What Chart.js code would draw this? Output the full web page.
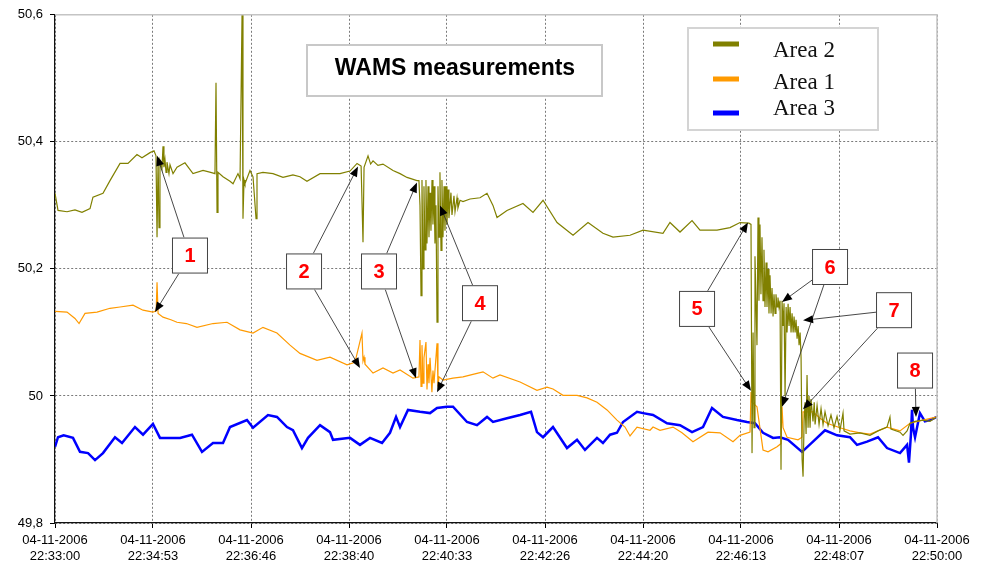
<!DOCTYPE html>
<html>
<head>
<meta charset="utf-8">
<script src="https://cdn.jsdelivr.net/npm/chart.js@4.4.1/dist/chart.umd.min.js"></script>
<style>
  html, body { margin: 0; padding: 0; background: #fff; }
  #wrap { width: 983px; height: 565px; position: relative; }
</style>
</head>
<body>
<div id="wrap"><canvas id="chart" width="983" height="565"></canvas></div>
<script>
// seconds after 04-11-2006 22:33:00, frequency in Hz
const area2Time = [0,3.5,13.9,23.1,31.2,40.5,43.9,55.5,63.6,75.2,84.4,94.8,100.6,109.9,114.5,116.8,118,119.2,120.3,121.4,123.7,124.9,126,127.2,128.4,129.5,131.8,133,136.5,141.1,150.3,159.6,171.2,180,185,186.2,187.4,188.5,194.3,202.4,205.9,211.6,214,216.3,217.4,218.6,219.7,225.5,229,232.5,233.6,240.5,252.1,263.7,275.2,283.3,291.4,306.5,318,329.6,341.2,349.3,354,356.2,357.4,362,365,367.8,373.5,379.3,390.9,399,407.1,418.6,420.9,422.1,423.3,424.4,425.6,426.7,427.9,429,430.2,431.4,432.5,433.7,434.8,436,437.1,438.3,439.4,440.6,441.8,442.9,444.1,445.2,446.4,447.5,448.7,449.9,451,452.2,453.3,454.5,455.6,457.9,459.1,461.4,462.6,464.9,466,468.4,471.8,480,491.5,499.6,506.5,511.2,522.7,541.2,552.8,564.4,580.6,599.1,616.4,633.7,645.3,665,680,703.1,711.2,722.8,736.7,745.9,765.6,780.6,792.2,802.5,804.9,806.1,807.3,808.4,809.5,811.8,813,814.1,815.3,816.4,817.6,818.8,819.9,821.1,822.3,823.4,824.6,825.7,826.9,828.1,829.2,830.4,831.5,832.7,833.8,835,836.1,837.3,838.5,839.6,840.8,842,843.1,844.3,845.5,846.6,847.8,848.9,850.1,851.2,852.4,853.6,854.7,855.9,857,858.2,859.4,860.5,861.7,862.8,864,865.1,866.3,867.4,868.6,869.7,870.9,872,873.2,874.3,876.6,878,879,881.3,883.6,885.9,888.2,890.5,894,897.4,900.9,904.4,907.8,911.3,912.5,919.4,931,942.5,951.8,962.2,965.6,966.8,977.2,980.7,985.4,988.8,994.6,1003.8,1011.9,1020];
const area2Freq = [50.319,50.292,50.29,50.293,50.289,50.295,50.313,50.319,50.339,50.366,50.366,50.38,50.375,50.383,50.386,50.378,50.25,50.372,50.265,50.37,50.358,50.393,50.36,50.372,50.352,50.368,50.35,50.364,50.35,50.36,50.367,50.35,50.355,50.352,50.35,50.493,50.289,50.352,50.345,50.338,50.334,50.35,50.342,50.6,50.279,50.34,50.334,50.355,50.345,50.279,50.35,50.352,50.35,50.344,50.348,50.345,50.338,50.35,50.35,50.35,50.354,50.366,50.362,50.242,50.36,50.378,50.365,50.37,50.363,50.365,50.355,50.35,50.344,50.339,50.339,50.3,50.158,50.34,50.2,50.33,50.23,50.34,50.24,50.33,50.25,50.32,50.26,50.34,50.27,50.33,50.24,50.3,50.116,50.33,50.25,50.352,50.229,50.34,50.25,50.33,50.26,50.33,50.27,50.325,50.28,50.32,50.285,50.315,50.29,50.312,50.296,50.308,50.306,50.31,50.312,50.319,50.3,50.281,50.292,50.303,50.289,50.308,50.273,50.253,50.273,50.256,50.25,50.253,50.261,50.256,50.273,50.258,50.276,50.261,50.261,50.265,50.273,50.272,50.27,49.91,50.1,49.95,50.22,50.08,50.281,50.15,50.27,50.16,50.25,50.15,50.23,50.14,50.21,50.14,50.2,50.13,50.19,50.13,50.17,50.125,50.16,50.13,50.16,50.14,50.155,50.14,50.15,49.884,50.15,50.11,50.146,50.0,50.14,50.1,50.145,50.11,50.14,50.1,50.13,50.1,50.125,50.1,50.12,50.09,50.11,50.08,50.1,50.06,49.9,49.873,49.96,49.99,49.94,50.033,49.95,50.0,49.95,49.995,49.96,49.99,49.955,49.985,49.955,49.98,49.955,49.975,49.953,49.97,49.95,49.968,49.946,49.973,49.945,49.94,49.942,49.938,49.945,49.951,49.967,49.948,49.943,49.938,49.945,49.957,49.96,49.962,49.96,49.967];

const area1Time = [0,13.9,23.1,27.8,34.7,48.6,63.6,75.2,90.2,101.8,113.3,117,118,119.2,124.9,134,141.1,152,164.2,182.7,198.9,214,229,240.5,256.7,271.8,283.3,303,318,337.7,346.9,355,356.2,357.4,358.5,367.8,379.3,390.9,399,414,420.9,422.1,423.3,424.4,425.6,426.7,429,430.2,431.4,432.5,433.7,435.9,437.1,438.3,441.8,442.9,444.1,448.7,460.3,471.8,483.3,495,506.5,514.6,537.8,557.4,569,575.9,587.5,603.7,615.3,626.8,638.4,649.9,659.2,665,673.1,688.1,691.6,699.7,714.7,725.1,737.8,755.2,769.1,784.1,792.2,803.8,804.9,806.1,809.5,811.8,818.8,824.6,835,839.6,840.8,842,846.6,859.3,863.9,865.1,876.6,884.7,892.8,907.8,919.4,931,942.5,962.2,977.2,988.8,1003.8,1020];
const area1Freq = [50.133,50.132,50.122,50.114,50.13,50.132,50.138,50.14,50.143,50.135,50.132,50.134,50.179,50.13,50.124,50.12,50.116,50.114,50.108,50.114,50.116,50.104,50.099,50.108,50.099,50.08,50.067,50.056,50.061,50.049,50.053,50.099,50.055,50.061,50.05,50.036,50.044,50.036,50.041,50.028,50.03,50.088,50.015,50.08,50.02,50.06,50.085,50.01,50.05,50.02,50.06,50.006,50.04,50.02,50.083,50.015,50.03,50.025,50.028,50.03,50.034,50.038,50.028,50.033,50.022,50.009,50.014,50.011,50.001,50.001,49.997,49.99,49.978,49.962,49.951,49.937,49.951,49.946,49.951,49.946,49.951,49.942,49.928,49.943,49.942,49.928,49.938,49.943,50.006,49.99,49.986,49.983,49.915,49.912,49.92,49.925,49.983,49.95,49.935,49.931,49.935,49.975,49.975,49.965,49.957,49.95,49.945,49.942,49.94,49.951,49.945,49.957,49.962,49.967];

const area3Time = [0,3.5,10,20.8,28.9,38.2,46.3,55.5,69.4,77.5,92.5,101.8,113.3,121.4,144.6,158.4,170,182.7,194.3,202.4,222,229,246.3,256.7,268.3,275.2,285.6,292.6,306.5,318,321.5,341.2,352.7,364.3,378.2,387.4,394.4,399,408.2,422.1,433.7,441.8,453.3,460.3,476.5,488,499.6,506.5,522.7,537.8,550.5,557.4,564.4,575.9,592.1,603.7,612.9,626.8,633.7,641.9,649.9,656.9,673.1,680,691.6,707.8,722.8,736.7,749.4,759.8,772.5,788.7,800.3,809.5,818.8,830.4,838.5,847.7,863.9,876.6,890.5,904.4,919.4,927.5,939.1,951.8,962.2,977.2,985.4,987.6,989.9,991.1,992.3,994.6,1000.3,1006,1011.9,1020];
const area3Freq = [49.92,49.935,49.938,49.934,49.912,49.91,49.899,49.91,49.935,49.926,49.951,49.939,49.956,49.934,49.934,49.939,49.912,49.926,49.926,49.951,49.962,49.95,49.97,49.967,49.951,49.946,49.918,49.934,49.954,49.943,49.931,49.934,49.923,49.934,49.926,49.942,49.967,49.951,49.978,49.975,49.973,49.981,49.983,49.983,49.959,49.954,49.967,49.959,49.965,49.97,49.975,49.943,49.935,49.951,49.918,49.931,49.915,49.934,49.926,49.939,49.942,49.959,49.975,49.973,49.97,49.957,49.954,49.943,49.951,49.981,49.967,49.962,49.959,49.957,49.942,49.934,49.935,49.931,49.912,49.928,49.946,49.938,49.935,49.923,49.928,49.935,49.918,49.91,49.923,49.895,49.94,49.978,49.95,49.935,49.973,49.96,49.962,49.967];

const xTickSeconds = [0, 113.3, 226.7, 340, 453.3, 566.7, 680, 793.3, 906.7, 1020];
const xTickLabels = ['22:33:00','22:34:53','22:36:46','22:38:40','22:40:33','22:42:26','22:44:20','22:46:13','22:48:07','22:50:00'];
const xTickDate = '04-11-2006';
const yTickValues = [49.8, 50, 50.2, 50.4, 50.6];
const yTickLabels = ['49,8', '50', '50,2', '50,4', '50,6'];

// numbered callouts: box centre and arrow targets, in (seconds, Hz)
const callouts = [
  { n: '1', at: [156.1, 50.221], to: [[118, 50.378], [115.7, 50.132]] },
  { n: '2', at: [288.0, 50.196], to: [[350.4, 50.361], [352.7, 50.044]] },
  { n: '3', at: [374.7, 50.196], to: [[418.6, 50.336], [417.5, 50.028]] },
  { n: '4', at: [491.5, 50.146], to: [[445.2, 50.300], [441.8, 50.006]] },
  { n: '5', at: [742.5, 50.137], to: [[801.4, 50.273], [804.9, 50.008]] },
  { n: '6', at: [896.3, 50.203], to: [[840.8, 50.148], [840.8, 49.983]] },
  { n: '7', at: [970.3, 50.135], to: [[865.1, 50.119], [865.1, 49.979]] },
  { n: '8', at: [994.6, 50.040], to: [[995.7, 49.967]] }
];

const zip = (ts, vs) => ts.map((t, i) => ({ x: t, y: vs[i] }));

const decor = {
  id: 'decor',
  afterDatasetsDraw(chart) {
    const { ctx, chartArea: a, scales } = chart;
    const sx = scales.x, sy = scales.y;
    ctx.save();

    // plot frame (top and right light grey)
    ctx.strokeStyle = '#c4c4c4';
    ctx.lineWidth = 1.5;
    ctx.beginPath();
    ctx.moveTo(a.left, a.top);
    ctx.lineTo(a.right, a.top);
    ctx.lineTo(a.right, a.bottom);
    ctx.stroke();

    // title box
    ctx.fillStyle = '#fff';
    ctx.fillRect(307, 45, 295, 51);
    ctx.strokeStyle = '#c8c8c8';
    ctx.lineWidth = 2;
    ctx.strokeRect(307, 45, 295, 51);
    ctx.fillStyle = '#000';
    ctx.font = 'bold 23px "Liberation Sans", Arial, sans-serif';
    ctx.textAlign = 'center';
    ctx.textBaseline = 'middle';
    ctx.fillText('WAMS measurements', 455, 69);

    // legend box
    ctx.fillStyle = '#fff';
    ctx.fillRect(688, 28, 190, 102);
    ctx.strokeStyle = '#d4d4d4';
    ctx.strokeRect(688, 28, 190, 102);
    const rows = [44, 79, 113];
    const textRows = [51, 83, 109];
    chart.data.datasets.forEach((ds, i) => {
      ctx.fillStyle = ds.borderColor;
      ctx.fillRect(713, rows[i] - 2.5, 26, 5);
      ctx.fillStyle = '#111';
      ctx.font = '23px "Liberation Serif", "Times New Roman", serif';
      ctx.textAlign = 'left';
      ctx.textBaseline = 'middle';
      ctx.fillText(ds.label, 773, textRows[i]);
    });

    // callouts
    const hw = 18, hh = 18;
    callouts.forEach(c => {
      const cx = sx.getPixelForValue(c.at[0]);
      const cy = sy.getPixelForValue(c.at[1]);
      c.to.forEach(([t, v]) => {
        const px = sx.getPixelForValue(t);
        const py = sy.getPixelForValue(v);
        const dx = px - cx, dy = py - cy;
        const s = Math.min(hw / Math.abs(dx || 1e-6), hh / Math.abs(dy || 1e-6));
        const x0 = cx + dx * s, y0 = cy + dy * s;
        const ang = Math.atan2(py - y0, px - x0);
        ctx.strokeStyle = '#333';
        ctx.lineWidth = 0.9;
        ctx.beginPath();
        ctx.moveTo(x0, y0);
        ctx.lineTo(px - Math.cos(ang) * 6, py - Math.sin(ang) * 6);
        ctx.stroke();
        ctx.fillStyle = '#000';
        ctx.beginPath();
        ctx.moveTo(px, py);
        ctx.lineTo(px - Math.cos(ang) * 10 + Math.sin(ang) * 4, py - Math.sin(ang) * 10 - Math.cos(ang) * 4);
        ctx.lineTo(px - Math.cos(ang) * 10 - Math.sin(ang) * 4, py - Math.sin(ang) * 10 + Math.cos(ang) * 4);
        ctx.closePath();
        ctx.fill();
      });
      ctx.fillStyle = '#fff';
      ctx.fillRect(cx - hw, cy - hh, hw * 2, hh * 2);
      ctx.strokeStyle = '#444';
      ctx.lineWidth = 1;
      ctx.strokeRect(cx - hw + 0.5, cy - hh + 0.5, hw * 2 - 1, hh * 2 - 1);
      ctx.fillStyle = '#ff0000';
      ctx.font = 'bold 20px "Liberation Sans", Arial, sans-serif';
      ctx.textAlign = 'center';
      ctx.textBaseline = 'middle';
      ctx.fillText(c.n, cx, cy + 1);
    });

    ctx.restore();
  }
};

new Chart(document.getElementById('chart'), {
  type: 'line',
  data: {
    datasets: [
      { label: 'Area 2', data: zip(area2Time, area2Freq), borderColor: '#808000', borderWidth: 1.2 },
      { label: 'Area 1', data: zip(area1Time, area1Freq), borderColor: '#ff9a00', borderWidth: 1.2 },
      { label: 'Area 3', data: zip(area3Time, area3Freq), borderColor: '#0000ff', borderWidth: 2.5 }
    ]
  },
  options: {
    responsive: false,
    animation: false,
    elements: { point: { radius: 0 }, line: { tension: 0 } },
    layout: { padding: { top: 14, right: 46, left: 0, bottom: 0 } },
    plugins: { legend: { display: false }, tooltip: { enabled: false } },
    scales: {
      x: {
        type: 'linear',
        min: 0,
        max: 1020,
        afterBuildTicks: (scale) => { scale.ticks = xTickSeconds.map(v => ({ value: v })); },
        afterFit: (scale) => { scale.height = 42; },
        ticks: {
          autoSkip: false,
          maxRotation: 0,
          padding: 5,
          color: '#000',
          font: { family: '"Liberation Sans", Arial, sans-serif', size: 13 },
          callback: (v, i) => [xTickDate, xTickLabels[i]]
        },
        grid: { color: '#7a7a7a', lineWidth: 1, tickLength: 5, tickColor: '#000', tickBorderDash: [] },
        border: { display: true, color: '#111', width: 1.2, dash: [2, 2] }
      },
      y: {
        min: 49.8,
        max: 50.6,
        afterBuildTicks: (scale) => { scale.ticks = yTickValues.map(v => ({ value: v })); },
        afterFit: (scale) => { scale.width = 55; },
        ticks: {
          padding: 7,
          color: '#000',
          font: { family: '"Liberation Sans", Arial, sans-serif', size: 13 },
          callback: (v, i) => yTickLabels[i]
        },
        grid: { color: '#7a7a7a', lineWidth: 1, tickLength: 5, tickColor: '#000', tickBorderDash: [] },
        border: { display: true, color: '#111', width: 1.2, dash: [2, 2] }
      }
    }
  },
  plugins: [decor]
});
</script>
</body>
</html>
